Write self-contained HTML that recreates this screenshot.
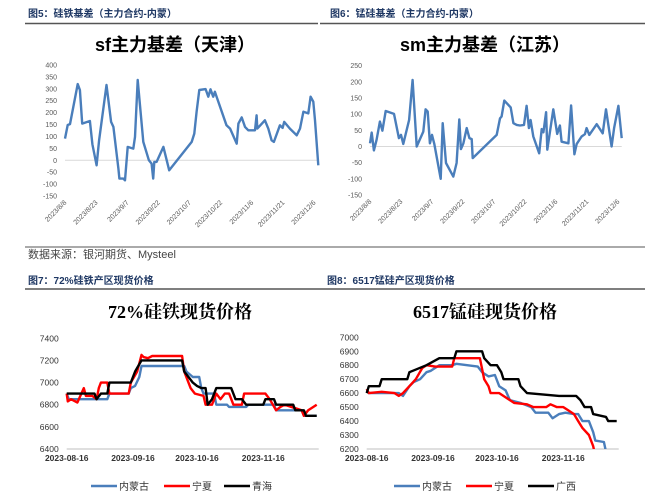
<!DOCTYPE html>
<html><head><meta charset="utf-8"><style>
body{margin:0;background:#fff;}
svg{display:block;font-family:"Liberation Sans","Noto Sans CJK SC",sans-serif;}
</style></head><body>
<svg id="s" width="645" height="500" viewBox="0 0 645 500">
<g font-weight="bold" font-size="10" fill="#1f3864">
<text x="28" y="17">图5：硅铁基差（主力合约-内蒙）</text>
<text x="330" y="17">图6：锰硅基差（主力合约-内蒙）</text>
<text x="28" y="284">图7：72%硅铁产区现货价格</text>
<text x="327" y="284">图8：6517锰硅产区现货价格</text>
</g>
<line x1="25" y1="23.5" x2="318" y2="23.5" stroke="#555" stroke-width="1.5"/>
<line x1="320" y1="23.5" x2="645" y2="23.5" stroke="#555" stroke-width="1.5"/>
<line x1="25" y1="247" x2="645" y2="247" stroke="#555" stroke-width="1"/>
<line x1="25" y1="289" x2="320" y2="289" stroke="#555" stroke-width="1.5"/>
<line x1="320" y1="289" x2="645" y2="289" stroke="#555" stroke-width="1.5"/>
<text x="28" y="258" font-size="11" fill="#444">数据来源：银河期货、Mysteel</text>
<text x="175" y="51" text-anchor="middle" font-size="18" font-weight="bold">sf主力基差（天津）</text>
<text x="485" y="51" text-anchor="middle" font-size="18" font-weight="bold">sm主力基差（江苏）</text>
<text x="180" y="318" text-anchor="middle" font-size="18" font-weight="bold" font-family="'Liberation Serif','Noto Serif CJK SC',serif">72%硅铁现货价格</text>
<text x="485" y="318" text-anchor="middle" font-size="18" font-weight="bold" font-family="'Liberation Serif','Noto Serif CJK SC',serif">6517锰硅现货价格</text>
</svg>
<script>
// ---- chart data ----
const sfDays=[0,1.3,2.4,6.1,7.2,8.3,12,13.2,15.2,16.4,20,22.2,23.3,25.7,26.2,28.1,28.9,30.2,32.9,33.7,35,37.7,40.4,41.7,42.5,43,44.1,47.4,50.2,61,62.3,63.4,64.7,67.7,69,70.1,71.4,72.2,73,77.8,79.5,82.7,83.5,85.1,86.7,88.3,91.5,92.3,92.6,96.3,97.9,99.5,100.6,103.5,104.8,105.6,108.3,111.6,113.2,114.8,117.2,118.3,119.6,120.4,122];
const sfVals=[91,148,152,320,295,154,165,67,-21,84,316,161,140,-35,-77,-77,-84,56,49,98,337,77,0,-14,-77,-7,-7,56,-42,77,112,204,295,299,267,298,267,288,267,147,133,70,154,180,140,126,126,189,133,168,133,84,77,147,136,161,133,105,133,204,197,267,246,168,-21];
const smDays=[0,0.8,1.9,3.2,4.8,6,7.6,11.6,14,15,16.1,18.9,20.6,22.6,25.8,26.9,27.9,29,30,31.1,34.2,35.2,36.8,40.3,41.9,43.2,44,45.2,46.8,48.1,49.2,49.7,61.3,62.9,63.7,65,68.1,69.4,71,72.6,74.5,75.8,76.9,77.7,79,81.9,83.1,83.9,85.2,85.8,88.7,90.6,91.9,92.7,96,97.3,98.9,100,102.4,104,104.8,106.1,109.7,112.6,114.2,116.9,118.1,120.2,121.8];
const smVals=[10,43,-12,21,77,49,110,101,26,36,8,82,206,0,46,115,108,10,36,8,-100,72,-51,-93,-51,84,-8,10,57,26,23,-36,36,87,93,142,121,72,67,65,67,126,57,82,31,-21,54,44,106,-10,115,39,65,15,10,127,-24,8,31,38,57,36,69,41,115,0,57,126,26];
const sfYTicks=[400,350,300,250,200,150,100,50,0,-50,-100,-150];
const smYTicks=[250,200,150,100,50,0,-50,-100,-150];
const basisXLabels=["2023/8/8","2023/8/23","2023/9/7","2023/9/22","2023/10/7","2023/10/22","2023/11/6","2023/11/21","2023/12/6"];
const labelDays=[0,15,30,45,60,75,90,105,120];

const fesiNmDays=[0,1,19,20,29,30,32,34,35,55,56,59,62,63,64,69,70,75,76,84,85,97,98,110,111,117];
const fesiNmVals=[6900,6850,6850,6900,6900,6950,6970,7050,7150,7150,7100,7050,7050,6950,6900,6900,6800,6800,6780,6780,6800,6800,6750,6750,6700,6700];
const fesiNxDays=[0,0.5,2,5,8,9,12,14,15,16,19,20,23,29,30,33,35,36,38,40,54,55,58,60,64,65,68,70,72,74,76,78,82,83,93,95,98,100,102,110,111,113,117];
const fesiNxVals=[6900,6830,6850,6820,6950,6880,6880,6850,6950,7000,7000,6900,6900,6900,7000,7100,7250,7230,7220,7240,7240,7100,6950,6900,6880,6800,6800,6900,6850,6900,6900,6800,6800,6900,6900,6850,6750,6780,6800,6750,6700,6750,6800];
const fesiQhDays=[0,13,14,16,19,20,30,32,35,54,55,57,59,61,63,65,66,68,70,77,79,82,84,92,93,97,98,106,107,111,112,117];
const fesiQhVals=[6900,6900,6850,6900,6900,7000,7000,7100,7200,7200,7100,7050,7000,6970,6950,6950,6800,6850,6950,6950,6850,6850,6800,6800,6850,6850,6800,6800,6750,6750,6700,6700];
const fesiYTicks=[7400,7200,7000,6800,6600,6400];

const simnGxDays=[0,1,6,7,19,20,28,34,41,42,54,55,58,61,63,64,71,72,75,90,98,100,102,105,106,112,113,117];
const simnGxVals=[6600,6650,6650,6700,6700,6750,6800,6850,6850,6900,6900,6850,6800,6800,6750,6700,6700,6650,6600,6580,6580,6550,6500,6500,6450,6430,6400,6400];
const simnNmDays=[0,1,15,17,20,22,25,28,30,34,40,42,47,52,54,57,60,62,65,67,72,77,79,85,87,90,93,97,99,101,104,106,107,111,112,114];
const simnNmVals=[6620,6600,6600,6580,6650,6680,6700,6750,6760,6800,6800,6810,6800,6790,6750,6720,6730,6650,6620,6550,6530,6500,6460,6460,6420,6450,6460,6450,6450,6400,6400,6320,6260,6250,6180,6100];
const simnNxDays=[0,1,7,13,15,17,20,23,26,28,32,40,41,53,55,57,58,62,67,69,75,78,84,86,89,92,94,97,99,101,104,106,107];
const simnNxVals=[6630,6600,6610,6600,6580,6600,6650,6700,6780,6800,6790,6790,6850,6850,6700,6650,6600,6600,6550,6530,6520,6500,6500,6520,6500,6500,6480,6450,6400,6350,6300,6220,6150];
const simnYTicks=[7000,6900,6800,6700,6600,6500,6400,6300,6200];
const priceXLabels=["2023-08-16","2023-09-16","2023-10-16","2023-11-16"];
const priceLabelDays=[0,31,61,92];

const NS="http://www.w3.org/2000/svg";
const svg=document.getElementById('s');
function mk(tag,attrs,parent){const e=document.createElementNS(NS,tag);for(const k in attrs)e.setAttribute(k,attrs[k]);(parent||svg).appendChild(e);return e;}
function lin(d0,d1,r0,r1){return v=>r0+(v-d0)/(d1-d0)*(r1-r0);}
function poly(xs,ys,X,Y){return xs.map((d,i)=>X(d).toFixed(1)+','+Y(ys[i]).toFixed(1)).join(' ');}

function basis(id,x0,x1,dEnd,yTop,yBot,vTop,vBot,ticks,days,vals){
  const g=mk('g',{});
  
  
  const X=lin(0,dEnd,x0,x1),Y=lin(vTop,vBot,yTop,yBot);
  ticks.forEach(t=>{const tx=mk('text',{x:x0-8,y:Y(t)+2.5,'text-anchor':'end','font-size':'7',fill:'#595959'},g);tx.textContent=t;
    
    });
  const z=mk('line',{x1:x0,x2:x1,y1:Y(0),y2:Y(0),stroke:'#d9d9d9','stroke-width':1},g);
  
  
  basisXLabels.forEach((l,i)=>{const px=X(labelDays[i])+2,py=yBot+7;
    const tx=mk('text',{x:px,y:py,'text-anchor':'end','font-size':'7',fill:'#595959',transform:`rotate(-45 ${px} ${py})`},g);tx.textContent=l;
    
    });
  const p=mk('polyline',{points:poly(days,vals,X,Y),fill:'none',stroke:'#4a7ebb','stroke-width':2.4,'stroke-linejoin':'round'},g);
  
  
}
basis('sf',65,318.3,122,65,196,400,-150,sfYTicks,sfDays,sfVals);
basis('sm',370,621.7,121.8,65.7,195,250,-150,smYTicks,smDays,smVals);

function price(id,x0,x1,dEnd,yTop,yBot,vTop,vBot,ticks,series,legX){
  const g=mk('g',{});
  
  
  const X=lin(0,dEnd,x0,x1),Y=lin(vTop,vBot,yTop,yBot);
  const cp=mk('clipPath',{id:id+'clip'},g);mk('rect',{x:x0-5,y:yTop-10,width:x1-x0+15,height:yBot-yTop+10},cp);
  ticks.forEach(t=>{const tx=mk('text',{x:x0-8,y:Y(t)+3,'text-anchor':'end','font-size':'8.5',fill:'#333'},g);tx.textContent=t;
    
    });
  const ax=mk('line',{x1:x0,x2:x1+2,y1:yBot,y2:yBot,stroke:'#bfbfbf','stroke-width':1},g);
  
  
  priceXLabels.forEach((l,i)=>{const tx=mk('text',{x:X(priceLabelDays[i]),y:yBot+12,'text-anchor':'middle','font-size':'8.5','font-weight':'bold',fill:'#333'},g);tx.textContent=l;
    
    });
  series.forEach(s=>{const p=mk('polyline',{points:poly(s.d,s.v,X,Y),fill:'none',stroke:s.c,'stroke-width':2.4,'stroke-linejoin':'round','clip-path':`url(#${id}clip)`},g);
    
    });
  series.forEach((s,i)=>{const lx=legX[i];
    const l=mk('line',{x1:lx,x2:lx+26,y1:486,y2:486,stroke:s.c,'stroke-width':2.6},g);
    
    
    const tx=mk('text',{x:lx+28,y:490,'font-size':'10',fill:'#333'},g);tx.textContent=s.label;
    
    });
}
price('fesi',66.7,316.7,117,338.3,449,7400,6400,fesiYTicks,[
 {n:'neimeng',label:'内蒙古',c:'#4a7ebb',d:fesiNmDays,v:fesiNmVals},
 {n:'ningxia',label:'宁夏',c:'#ff0000',d:fesiNxDays,v:fesiNxVals},
 {n:'qinghai',label:'青海',c:'#000',d:fesiQhDays,v:fesiQhVals}],[91,164,224]);
price('simn',366.7,616.7,117,337.3,449,7000,6200,simnYTicks,[
 {n:'neimeng',label:'内蒙古',c:'#4a7ebb',d:simnNmDays,v:simnNmVals},
 {n:'ningxia',label:'宁夏',c:'#ff0000',d:simnNxDays,v:simnNxVals},
 {n:'guangxi',label:'广西',c:'#000',d:simnGxDays,v:simnGxVals}],[394,466,528]);
</script>
</body></html>
